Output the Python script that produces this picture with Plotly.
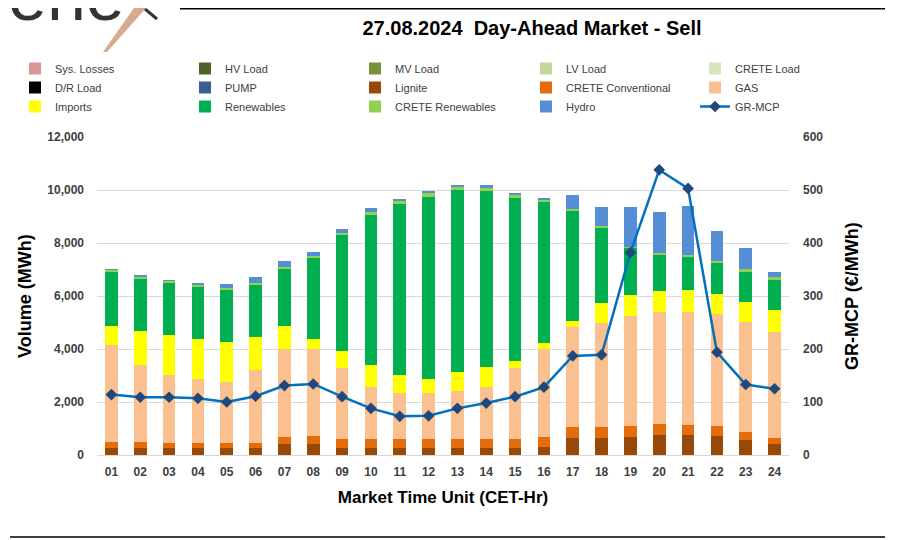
import plotly.graph_objects as go

hours = [f"{h:02d}" for h in range(1, 25)]

sys_losses = [0] * 24
hv_load = [0] * 24
mv_load = [0] * 24
lv_load = [0] * 24
crete_load = [0] * 24
dr_load = [0] * 24
pump = [0] * 24
lignite = [275, 275, 275, 275, 275, 275, 415, 415, 264, 264, 264, 264,
           264, 264, 264, 315, 654, 654, 664, 742, 742, 735, 553, 403]
crete_conv = [215, 205, 180, 185, 190, 195, 253, 302, 340, 340, 340, 340,
              340, 340, 352, 365, 391, 416, 419, 428, 390, 359, 315, 238]
gas = [3648, 2904, 2551, 2395, 2302, 2738, 3319, 3296, 2692, 1975, 1748, 1748,
       1796, 1975, 2654, 3307, 3798, 3924, 4175, 4214, 4277, 4227, 4151, 4013]
imports = [742, 1295, 1522, 1535, 1497, 1257, 881, 364, 641, 817, 654, 516,
           720, 754, 277, 252, 214, 742, 780, 792, 817, 754, 755, 805]
renewables = [2013, 1975, 1963, 1962, 1975, 1975, 2176, 3082, 4390, 5673, 6453, 6868,
              6867, 6642, 6164, 5296, 4163, 2843, 1786, 1371, 1258, 1195, 1169, 1157]
crete_ren = [88, 88, 88, 88, 50, 51, 50, 50, 63, 101, 126, 138,
             126, 138, 100, 88, 76, 63, 38, 63, 63, 63, 63, 88]
hydro = [15, 15, 15, 15, 151, 226, 227, 164, 151, 151, 88, 76,
         88, 63, 76, 75, 503, 729, 1509, 1547, 1837, 1132, 805, 189]
gr_mcp = [114, 109, 109, 107, 100, 111, 131, 134, 110, 88, 73, 74,
          88, 98, 110, 128, 187, 189, 382, 538, 503, 194, 133, 125]

series = [
    ("Sys. Losses", sys_losses, "#D99694"),
    ("HV Load", hv_load, "#4F6228"),
    ("MV Load", mv_load, "#77933C"),
    ("LV Load", lv_load, "#C3D69B"),
    ("CRETE Load", crete_load, "#D7E4BD"),
    ("D/R Load", dr_load, "#000000"),
    ("PUMP", pump, "#376092"),
    ("Lignite", lignite, "#984807"),
    ("CRETE Conventional", crete_conv, "#E46C0A"),
    ("GAS", gas, "#FAC090"),
    ("Imports", imports, "#FFFF00"),
    ("Renewables", renewables, "#00B050"),
    ("CRETE Renewables", crete_ren, "#92D050"),
    ("Hydro", hydro, "#558ED5"),
]

FONT = "Liberation Sans, Arial, sans-serif"
OFF = 8  # page body margin
W, H = 912, 532
L, T = 89, 129
PW, PH = 692, 318
R, B = W - L - PW, H - T - PH

LEG_NAMES = ["legend", "legend2", "legend3", "legend4", "legend5"]


def px(xp):
    return (xp - OFF - L) / PW


def py(yp):
    return (H - B - (yp - OFF)) / PH


def cx(xp):
    return (xp - OFF) / W


def cy(yp):
    return 1 - (yp - OFF) / H


fig = go.Figure()
for i, (name, vals, col) in enumerate(series):
    fig.add_trace(go.Bar(x=hours, y=vals, name=name, legend=LEG_NAMES[i % 5],
                         marker=dict(color=col, line=dict(width=0))))

fig.add_trace(go.Scatter(
    x=hours, y=gr_mcp, name="GR-MCP", yaxis="y2", mode="lines+markers", legend=LEG_NAMES[14 % 5],
    line=dict(color="#0070C0", width=2.5),
    marker=dict(symbol="diamond", size=9, color="#1F497D"),
))

shapes = [
    dict(type="line", xref="paper", yref="paper", x0=px(180), x1=px(885), y0=py(8.8), y1=py(8.8),
         line=dict(color="#000000", width=1.5)),
    dict(type="line", xref="paper", yref="paper", x0=px(10), x1=px(885), y0=py(537), y1=py(537),
         line=dict(color="#000000", width=1.5)),
    # logo strokes
    dict(type="line", xref="paper", yref="paper", x0=px(127), x1=px(157), y0=py(-6), y1=py(19),
         line=dict(color="#333333", width=3)),
    dict(type="path", xref="paper", yref="paper",
         path=f"M{px(141)},{py(-2)} L{px(155)},{py(-2)} L{px(107)},{py(52)} L{px(103)},{py(52)} Z",
         fillcolor="#D8AA90", line=dict(width=0)),
]

annotations = [
    dict(text="ene", xref="paper", yref="paper", x=px(6), y=py(37), xanchor="left", yanchor="bottom",
         showarrow=False, font=dict(family=FONT, size=70, color="#333333")),
    dict(text="<b>Volume (MWh)</b>", xref="paper", yref="paper", x=px(25), y=py(296),
         xanchor="center", yanchor="middle", textangle=-90, showarrow=False,
         font=dict(family=FONT, size=18, color="#000000")),
    dict(text="<b>GR-MCP (€/MWh)</b>", xref="paper", yref="paper", x=px(852), y=py(296),
         xanchor="center", yanchor="middle", textangle=-90, showarrow=False,
         font=dict(family=FONT, size=18, color="#000000")),
]

leg_x = [55, 225, 395, 566, 735]
legends = {}
for k, nm in enumerate(LEG_NAMES):
    legends[nm] = dict(orientation="v", xref="container", yref="container",
                       x=cx(leg_x[k] - 40), y=cy(54), xanchor="left", yanchor="top",
                       traceorder="normal", font=dict(family=FONT, size=11, color="#404040"),
                       bgcolor="rgba(0,0,0,0)", borderwidth=0)

fig.update_layout(
    width=W, height=H,
    margin=dict(l=L, r=R, t=T, b=B, autoexpand=False),
    paper_bgcolor="white", plot_bgcolor="white",
    barmode="stack", bargap=0.56,
    font=dict(family=FONT, color="#404040"),
    title=dict(text="<b>27.08.2024  Day-Ahead Market - Sell</b>", xref="container", yref="container",
               x=cx(532), y=cy(28), xanchor="center", yanchor="middle",
               font=dict(family=FONT, size=20, color="#000000")),
    xaxis=dict(type="category", range=[-0.5, 23.5], showgrid=False, showline=True,
               linecolor="#D9D9D9", linewidth=1, automargin=False,
               tickfont=dict(family=FONT, size=12, color="#404040", weight="bold"),
               ticklabelstandoff=6,
               title=dict(text="<b>Market Time Unit (CET-Hr)</b>", standoff=12,
                          font=dict(family=FONT, size=17, color="#000000"))),
    yaxis=dict(range=[0, 12000], dtick=2000, tickformat=",d", showgrid=True, gridcolor="#D9D9D9",
               gridwidth=1, zeroline=False, showline=False, automargin=False,
               tickfont=dict(family=FONT, size=12, color="#404040", weight="bold"),
               ticklabelstandoff=12),
    yaxis2=dict(range=[0, 600], dtick=100, overlaying="y", side="right", showgrid=False,
                zeroline=False, showline=False, automargin=False,
                tickfont=dict(family=FONT, size=12, color="#404040", weight="bold"),
                ticklabelstandoff=13),
    shapes=shapes,
    annotations=annotations,
    **legends,
)

fig.write_html("out.html")
